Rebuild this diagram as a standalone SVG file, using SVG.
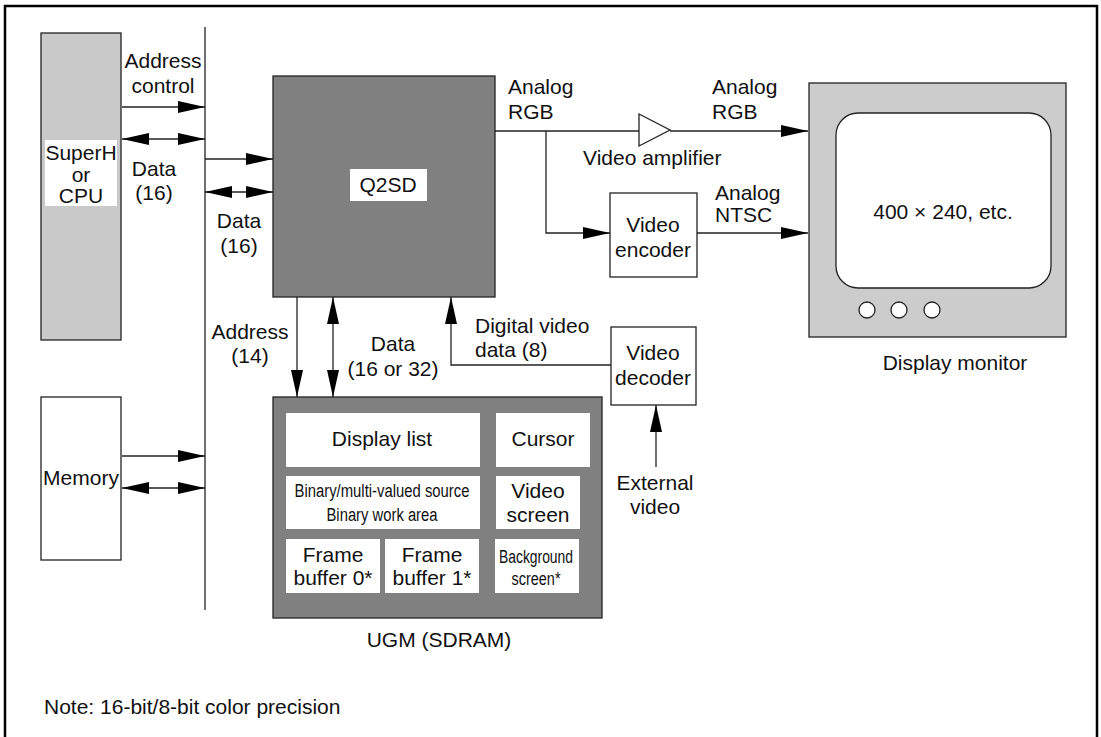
<svg xmlns="http://www.w3.org/2000/svg" width="1101" height="737" viewBox="0 0 1101 737">
<style>
text{font-family:"Liberation Sans",Arial,sans-serif;font-size:21px;fill:#111}
.c{text-anchor:middle}
.ln{stroke:#222;stroke-width:1.3;fill:none}
.box{stroke:#222;stroke-width:1.3}
.wb{fill:#fff;stroke:none}
</style>
<defs>
<marker id="ah" markerUnits="userSpaceOnUse" markerWidth="28" markerHeight="13" refX="27" refY="6" orient="auto-start-reverse" viewBox="0 0 28 13">
<path d="M0,0 L27,6 L0,12 z" fill="#000"/>
</marker>
</defs>
<rect x="0" y="0" width="1101" height="737" fill="#fff"/>
<path d="M5,737 V6 H1097 V737" fill="none" stroke="#000" stroke-width="2.5"/>

<g id="superh">
<rect class="box" x="41" y="33" width="80" height="307" fill="#c9c9c9"/>
<rect class="wb" x="45" y="140" width="72" height="66"/>
<text class="c" x="81" y="160">SuperH</text>
<text class="c" x="81" y="181.5">or</text>
<text class="c" x="81" y="203">CPU</text>
</g>

<g id="memory">
<rect class="box" x="41" y="397" width="80" height="163" fill="#fff"/>
<text class="c" x="81" y="485">Memory</text>
</g>

<g id="q2sd">
<rect class="box" x="273" y="76" width="222" height="221" fill="#808080"/>
<rect class="wb" x="350" y="169" width="77" height="32"/>
<text class="c" x="388" y="192">Q2SD</text>
</g>

<g id="amplifier">
<path d="M639,114 L670,130 L639,146 z" fill="#fff" stroke="#222" stroke-width="1.3"/>
<text x="583" y="165">Video amplifier</text>
</g>

<g id="encoder">
<rect class="box" x="610" y="193" width="87" height="84" fill="#fff"/>
<text class="c" x="653" y="232">Video</text>
<text class="c" x="653" y="257">encoder</text>
</g>

<g id="decoder">
<rect class="box" x="611" y="327" width="85" height="78" fill="#fff"/>
<text class="c" x="653" y="360">Video</text>
<text class="c" x="653" y="385">decoder</text>
</g>

<g id="monitor">
<rect class="box" x="809" y="83" width="257" height="254" fill="#cccccc"/>
<rect class="box" x="836" y="113" width="215" height="175" rx="22" fill="#fff"/>
<text class="c" x="943" y="219">400 × 240, etc.</text>
<circle class="box" cx="867" cy="310" r="8" fill="#fff"/>
<circle class="box" cx="899" cy="310" r="8" fill="#fff"/>
<circle class="box" cx="932" cy="310" r="8" fill="#fff"/>
<text class="c" x="955" y="370">Display monitor</text>
</g>

<g id="ugm">
<rect class="box" x="273" y="397" width="329" height="221" fill="#808080"/>
<rect class="wb" x="286" y="413" width="194" height="54"/>
<text class="c" x="382" y="446">Display list</text>
<rect class="wb" x="496" y="413" width="94" height="54"/>
<text class="c" x="543" y="446">Cursor</text>
<rect class="wb" x="286" y="476" width="194" height="53"/>
<text class="c" x="382" y="497" style="font-size:18px" textLength="175" lengthAdjust="spacingAndGlyphs">Binary/multi-valued source</text>
<text class="c" x="382" y="521" style="font-size:18px" textLength="111" lengthAdjust="spacingAndGlyphs">Binary work area</text>
<rect class="wb" x="496" y="476" width="84" height="53"/>
<text class="c" x="538" y="498">Video</text>
<text class="c" x="538" y="522">screen</text>
<rect class="wb" x="286" y="539" width="94" height="54"/>
<text class="c" x="333" y="562">Frame</text>
<text class="c" x="333" y="585">buffer 0*</text>
<rect class="wb" x="385" y="539" width="94" height="54"/>
<text class="c" x="432" y="562">Frame</text>
<text class="c" x="432" y="585">buffer 1*</text>
<rect class="wb" x="495" y="539" width="84" height="54"/>
<text class="c" x="536" y="563" style="font-size:18px" textLength="74" lengthAdjust="spacingAndGlyphs">Background</text>
<text class="c" x="536" y="585" style="font-size:18px" textLength="49" lengthAdjust="spacingAndGlyphs">screen*</text>
<text class="c" x="439" y="647">UGM (SDRAM)</text>
</g>

<g id="connectors">
<line class="ln" x1="205" y1="27" x2="205" y2="610"/>
<line class="ln" x1="122" y1="107" x2="205" y2="107" marker-end="url(#ah)"/>
<line class="ln" x1="122" y1="139" x2="205" y2="139" marker-start="url(#ah)" marker-end="url(#ah)"/>
<line class="ln" x1="205" y1="159" x2="273" y2="159" marker-end="url(#ah)"/>
<line class="ln" x1="205" y1="192" x2="273" y2="192" marker-start="url(#ah)" marker-end="url(#ah)"/>
<line class="ln" x1="122" y1="456" x2="205" y2="456" marker-end="url(#ah)"/>
<line class="ln" x1="122" y1="488" x2="205" y2="488" marker-start="url(#ah)" marker-end="url(#ah)"/>
<line class="ln" x1="495" y1="131" x2="639" y2="131"/>
<line class="ln" x1="670" y1="131" x2="808" y2="131" marker-end="url(#ah)"/>
<polyline class="ln" points="546,131 546,233 610,233" marker-end="url(#ah)"/>
<line class="ln" x1="697" y1="233" x2="808" y2="233" marker-end="url(#ah)"/>
<line class="ln" x1="297" y1="297" x2="297" y2="397" marker-end="url(#ah)"/>
<line class="ln" x1="333" y1="297" x2="333" y2="397" marker-start="url(#ah)" marker-end="url(#ah)"/>
<polyline class="ln" points="611,365 451,365 451,297" marker-end="url(#ah)"/>
<line class="ln" x1="656" y1="467" x2="656" y2="405" marker-end="url(#ah)"/>
</g>

<g id="labels">
<text class="c" x="163" y="68">Address</text>
<text class="c" x="163" y="93">control</text>
<text class="c" x="154" y="176">Data</text>
<text class="c" x="154" y="200">(16)</text>
<text class="c" x="239" y="228">Data</text>
<text class="c" x="239" y="253">(16)</text>
<text x="508" y="94">Analog</text>
<text x="508" y="119">RGB</text>
<text x="712" y="94">Analog</text>
<text x="712" y="119">RGB</text>
<text x="715" y="200">Analog</text>
<text x="715" y="222">NTSC</text>
<text class="c" x="250" y="339">Address</text>
<text class="c" x="250" y="363">(14)</text>
<text class="c" x="393" y="351">Data</text>
<text class="c" x="393" y="376">(16 or 32)</text>
<text x="475" y="333">Digital video</text>
<text x="475" y="357">data (8)</text>
<text class="c" x="655" y="490">External</text>
<text class="c" x="655" y="514">video</text>
<text x="44" y="714">Note: 16-bit/8-bit color precision</text>
</g>
</svg>
